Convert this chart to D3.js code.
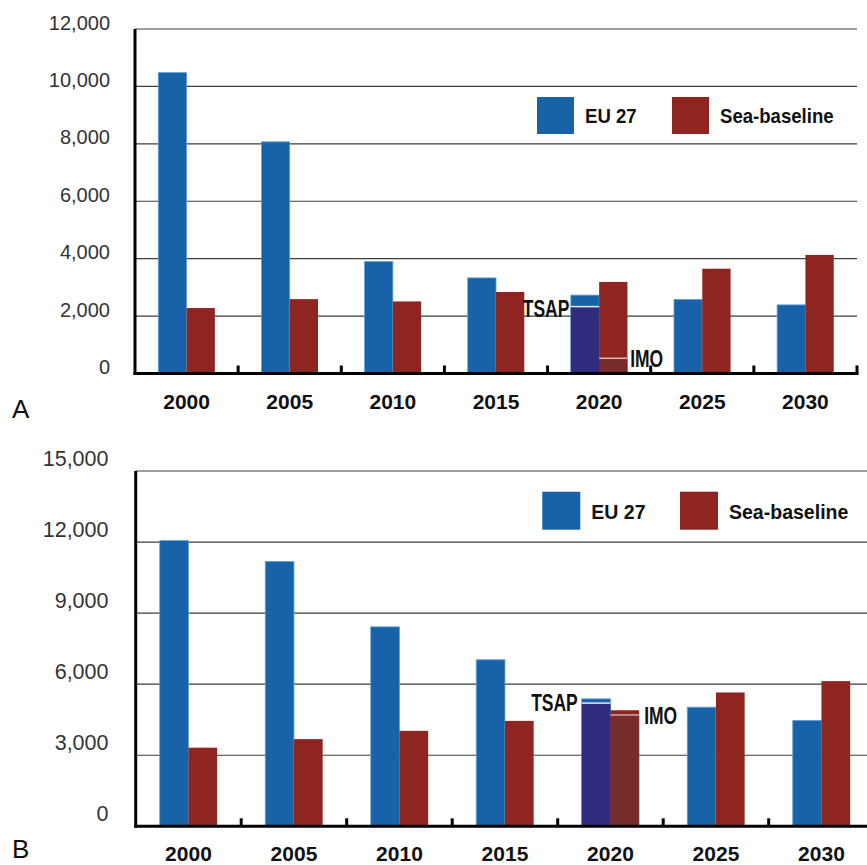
<!DOCTYPE html>
<html>
<head>
<meta charset="utf-8">
<script src="https://cdn.jsdelivr.net/npm/d3@7"></script>
<style>
  html, body { margin: 0; padding: 0; background: #fff; }
  svg { display: block; }
</style>
</head>
<body>
<script>
// ---- Categories and series ----
const years = ["2000", "2005", "2010", "2015", "2020", "2025", "2030"];
const seriesNames = ["EU 27", "Sea-baseline"];
const scenarioYear = "2020";

// ---- Panel A values ----
const euA  = [10480, 8070, 3900, 3330, 2730, 2580, 2390];
const seaA = [2280, 2590, 2510, 2840, 3190, 3650, 4130];
const tsapA = 2330;
const imoA = 530;
const yTicksA = [0, 2000, 4000, 6000, 8000, 10000, 12000];

// ---- Panel B values ----
const euB  = [12060, 11180, 8420, 7030, 5380, 5030, 4470];
const seaB = [3320, 3680, 4030, 4450, 4900, 5650, 6130];
const tsapB = 5200;
const imoB = 4700;
const yTicksB = [0, 3000, 6000, 9000, 12000, 15000];

// ---- Styling ----
const FONT = "'Liberation Sans', Arial, Helvetica, sans-serif";
const colors = {
  eu: "#1863a8", euEdge: "#5f9fd6",
  sea: "#8f2520",
  tsap: "#302b7d", tsapLine: "#e4e6f2",
  imo: "#772b2b",
  grid: "#3d3d3d", axis: "#000", label: "#333", note: "#111"
};

const layoutA = {
  letter: "A", letterX: 12, letterY: 418, letterSize: 26,
  left: 135, right: 857, top: 29, base: 373.5, barW: 28.3,
  yLabelX: 110, yLabelShift: 0, yLabelSize: 20,
  xLabelY: 409, xLabelSize: 21,
  legendX: 537, legendY: 97, legendSq: 37, legendGap: 135,
  legendTextSize: 20, legendTextBase: 123, legendSx: 0.93,
  noteSize: 23, noteSx: 0.76, tsapGap: 1.5, imoGap: 2.7, tsapShift: 10, imoShift: 8.7,
  imoLine: "#dcbcb6"
};
const layoutB = {
  letter: "B", letterX: 12, letterY: 858, letterSize: 26,
  left: 135.7, right: 874.2, top: 471, base: 826.3, barW: 28.7,
  yLabelX: 108.5, yLabelShift: -6, yLabelSize: 21.5,
  xLabelY: 861, xLabelSize: 21,
  legendX: 542.3, legendY: 491.7, legendSq: 38, legendGap: 137.7,
  legendTextSize: 21, legendTextBase: 519, legendSx: 0.93,
  noteSize: 23, noteSx: 0.76, tsapGap: 4, imoGap: 5, tsapShift: 8, imoShift: 9.3,
  imoLine: "#c9a9a4"
};

const W = 867, H = 865;
const svg = d3.select("body").append("svg")
  .attr("width", W).attr("height", H)
  .attr("viewBox", `0 0 ${W} ${H}`);
svg.append("rect").attr("width", W).attr("height", H).attr("fill", "#fff");

// Bold, horizontally condensed text
function condensedText(parent, x, y, text, size, sx, anchor) {
  const g = parent.append("g").attr("transform", `translate(${x},${y}) scale(${sx},1)`);
  g.append("text")
    .attr("x", 0).attr("y", 0)
    .attr("text-anchor", anchor)
    .attr("font-family", FONT)
    .attr("font-weight", "bold")
    .attr("font-size", size)
    .attr("fill", colors.note)
    .text(text);
  return g;
}

function drawPanel(L, eu, sea, tsap, imo, yTicks) {
  const g = svg.append("g");

  const x0 = d3.scaleBand().domain(years).range([L.left, L.right]).padding(0);
  const x1 = d3.scaleBand().domain(seriesNames).range([0, 2 * L.barW]).padding(0);
  const groupOff = (x0.bandwidth() - 2 * L.barW) / 2;
  const y = d3.scaleLinear().domain([0, d3.max(yTicks)]).range([L.base, L.top]);

  // horizontal gridlines (incl. top frame line)
  g.append("g").selectAll("line")
    .data(yTicks.filter(d => d > 0))
    .join("line")
    .attr("x1", L.left).attr("x2", L.right)
    .attr("y1", d => y(d)).attr("y2", d => y(d))
    .attr("stroke", colors.grid).attr("stroke-width", 1.2);

  // y-axis labels
  const yAxis = d3.axisLeft(y).tickValues(yTicks).tickFormat(d3.format(",")).tickSize(0).tickPadding(0);
  const ya = g.append("g").attr("transform", `translate(${L.yLabelX},0)`).call(yAxis);
  ya.select(".domain").remove();
  ya.attr("font-family", FONT).attr("font-size", L.yLabelSize);
  ya.selectAll("text")
    .attr("dy", null).attr("x", 0).attr("y", L.yLabelShift)
    .attr("fill", colors.label);

  // bars
  const rows = years.map((yr, i) => ({ year: yr, values: [eu[i], sea[i]] }));
  const groups = g.append("g").selectAll("g")
    .data(rows).join("g")
    .attr("transform", d => `translate(${x0(d.year) + groupOff},0)`);

  groups.selectAll("rect")
    .data(d => d.values.map((v, k) => ({ key: seriesNames[k], value: v })))
    .join("rect")
    .attr("x", d => x1(d.key))
    .attr("width", x1.bandwidth())
    .attr("y", d => y(d.value))
    .attr("height", d => y(0) - y(d.value))
    .attr("fill", d => d.key === seriesNames[0] ? colors.eu : colors.sea)
    .attr("stroke", d => d.key === seriesNames[0] ? colors.euEdge : "none")
    .attr("stroke-width", 0.8);

  // scenario overlays in the 2020 group
  const gx = x0(scenarioYear) + groupOff;
  const bxEU = gx + x1(seriesNames[0]);
  const bxSea = gx + x1(seriesNames[1]);
  const bw = x1.bandwidth();

  g.append("rect")
    .attr("x", bxEU).attr("width", bw)
    .attr("y", y(tsap)).attr("height", y(0) - y(tsap))
    .attr("fill", colors.tsap);
  g.append("line")
    .attr("x1", bxEU).attr("x2", bxEU + bw)
    .attr("y1", y(tsap)).attr("y2", y(tsap))
    .attr("stroke", colors.tsapLine).attr("stroke-width", 1.5);

  g.append("rect")
    .attr("x", bxSea).attr("width", bw)
    .attr("y", y(imo)).attr("height", y(0) - y(imo))
    .attr("fill", colors.imo);
  g.append("line")
    .attr("x1", bxSea).attr("x2", bxSea + bw)
    .attr("y1", y(imo)).attr("y2", y(imo))
    .attr("stroke", L.imoLine).attr("stroke-width", 1.5);

  condensedText(g, bxEU - L.tsapGap, y(tsap) + L.tsapShift, "TSAP", L.noteSize, L.noteSx, "end");
  condensedText(g, bxSea + bw + L.imoGap, y(imo) + L.imoShift, "IMO", L.noteSize, L.noteSx, "start");

  // category boundary ticks
  g.append("g").selectAll("line")
    .data(years)
    .join("line")
    .attr("x1", d => x0(d) + x0.bandwidth()).attr("x2", d => x0(d) + x0.bandwidth())
    .attr("y1", L.base).attr("y2", L.base - 8)
    .attr("stroke", colors.axis).attr("stroke-width", 3);

  // axis lines
  g.append("line")
    .attr("x1", L.left).attr("x2", L.left)
    .attr("y1", L.top).attr("y2", L.base + 1.5)
    .attr("stroke", colors.axis).attr("stroke-width", 3);
  g.append("line")
    .attr("x1", L.left - 1.5).attr("x2", L.right + 1.5)
    .attr("y1", L.base).attr("y2", L.base)
    .attr("stroke", colors.axis).attr("stroke-width", 3);

  // x-axis labels
  const xAxis = d3.axisBottom(x0).tickSize(0).tickPadding(0);
  const xa = g.append("g").attr("transform", `translate(0,${L.xLabelY})`).call(xAxis);
  xa.select(".domain").remove();
  xa.attr("font-family", FONT).attr("font-size", L.xLabelSize).attr("font-weight", "bold");
  xa.selectAll("text").attr("dy", null).attr("y", 0).attr("fill", "#111");

  // legend
  const lg = g.append("g");
  seriesNames.forEach((name, k) => {
    const lx = L.legendX + k * L.legendGap;
    lg.append("rect")
      .attr("x", lx).attr("y", L.legendY)
      .attr("width", L.legendSq).attr("height", L.legendSq)
      .attr("fill", k === 0 ? colors.eu : colors.sea);
    condensedText(lg, lx + L.legendSq + 11, L.legendTextBase, name, L.legendTextSize, L.legendSx, "start");
  });

  // panel letter
  g.append("text")
    .attr("x", L.letterX).attr("y", L.letterY)
    .attr("font-family", FONT).attr("font-size", L.letterSize)
    .attr("fill", "#111")
    .text(L.letter);
}

drawPanel(layoutA, euA, seaA, tsapA, imoA, yTicksA);
drawPanel(layoutB, euB, seaB, tsapB, imoB, yTicksB);
</script>
</body>
</html>
